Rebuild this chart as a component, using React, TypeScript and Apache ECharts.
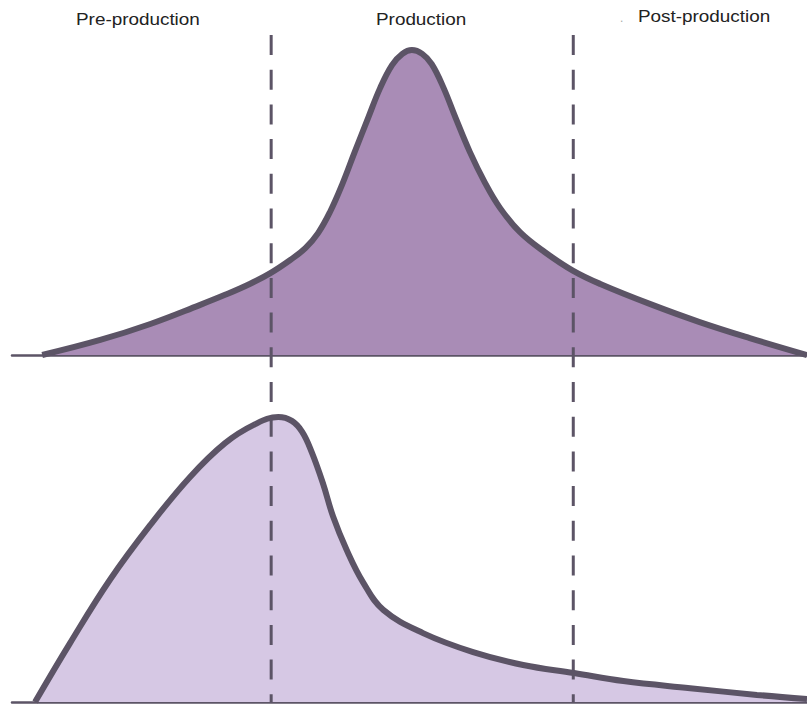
import React, { useEffect, useRef } from "react";
import * as echarts from "echarts";

// Timeline position (0-100) vs relative intensity (0-100)
const productionCurve: [number, number][] = [
  [3.8, 0], [11.1, 4.7], [17.4, 9.7], [23.6, 15.6], [26.8, 18.8], [29.9, 22.2],
  [32.5, 25.6], [35.0, 29.7], [36.9, 33.4], [38.5, 38.1], [40.0, 44.7], [41.5, 53.1],
  [43.1, 63.4], [44.8, 74.1], [46.3, 83.4], [47.8, 90.6], [49.1, 94.1], [50.3, 95.3],
  [51.6, 94.1], [52.8, 90.9], [54.3, 83.4], [55.8, 74.1], [57.6, 63.4], [59.5, 53.8],
  [61.4, 45.9], [63.9, 38.4], [67.0, 32.2], [70.6, 26.3], [74.0, 22.2], [80.3, 15.9],
  [86.5, 10.3], [92.8, 5.3], [100, 0],
];

const preProductionCurve: [number, number][] = [
  [2.9, 0], [7.3, 18.3], [12.3, 37.9], [17.4, 55.0], [22.4, 69.9], [26.8, 80.4],
  [30.6, 86.3], [33.5, 88.5], [35.2, 87.3], [36.5, 83.9], [37.7, 77.6], [39.1, 68.0],
  [40.4, 57.5], [42.1, 47.2], [44.2, 37.0], [46.7, 28.6], [51.7, 21.4], [58.0, 15.5],
  [64.3, 11.5], [70.7, 9.0], [76.9, 6.5], [85.3, 4.3], [93.7, 2.2], [100, 0.9],
];

const phaseBoundaries = [32.6, 70.6];
const phaseLabels = ["Pre-production", "Production", "Post-production"];

const OUTLINE = "#5c5466";
const FONT = "15px 'Liberation Sans', Arial, sans-serif";
const SMOOTH = 0.4;

export default function App() {
  const ref = useRef<HTMLDivElement>(null);

  useEffect(() => {
    document.body.style.margin = "0";
    const chart = echarts.init(ref.current!, null, { renderer: "svg" });

    const xAxisBase = (gridIndex: number, showLine: boolean) => ({
      type: "value" as const,
      gridIndex,
      min: 0,
      max: 100,
      axisLine: { show: showLine, onZero: false, lineStyle: { color: OUTLINE, width: 2.5 } },
      axisTick: { show: false },
      axisLabel: { show: false },
      splitLine: { show: false },
    });
    const yAxisBase = (gridIndex: number, max: number) => ({
      type: "value" as const,
      gridIndex,
      min: 0,
      max,
      show: false,
    });

    const dashSeries = phaseBoundaries.map((x) => ({
      type: "line" as const,
      xAxisIndex: 2,
      yAxisIndex: 2,
      data: [[x, 1], [x, 0]],
      symbol: "none",
      z: 3,
      lineStyle: { color: OUTLINE, width: 3, type: [20, 14.7] as any },
      silent: true,
    }));

    const label = (text: string, x: number, y: number) => ({
      type: "text" as const,
      x,
      y,
      scaleX: 1.26,
      scaleY: 1.05,
      style: { text, font: FONT, fill: "#222", textVerticalAlign: "top" as const },
    });

    chart.setOption({
      animation: false,
      grid: [
        { left: 12, right: 0, top: 35, bottom: 349 },
        { left: 12, right: 0, top: 380, bottom: 2 },
        { left: 12, right: 0, top: 35, bottom: 2 },
      ],
      xAxis: [xAxisBase(0, true), xAxisBase(1, true), xAxisBase(2, false)],
      yAxis: [yAxisBase(0, 100), yAxisBase(1, 100), yAxisBase(2, 1)],
      graphic: [
        label(phaseLabels[0], 76, 12),
        label(phaseLabels[1], 376, 12),
        label(phaseLabels[2], 638, 9),
        { type: "text", x: 620, y: 12, style: { text: ".", font: "12px 'Liberation Sans', Arial, sans-serif", fill: "#aaa", textVerticalAlign: "top" } },
      ],
      series: [
        {
          type: "line",
          xAxisIndex: 0,
          yAxisIndex: 0,
          data: productionCurve,
          smooth: SMOOTH,
          symbol: "none",
          z: 1,
          lineStyle: { width: 0 },
          areaStyle: { color: "#a98cb6", opacity: 1 },
        },
        {
          type: "line",
          xAxisIndex: 1,
          yAxisIndex: 1,
          data: preProductionCurve,
          smooth: SMOOTH,
          symbol: "none",
          z: 1,
          lineStyle: { width: 0 },
          areaStyle: { color: "#d6c8e4", opacity: 1 },
        },
        ...dashSeries,
        {
          type: "line",
          xAxisIndex: 0,
          yAxisIndex: 0,
          data: productionCurve,
          smooth: SMOOTH,
          symbol: "none",
          z: 5,
          lineStyle: { width: 6, color: OUTLINE },
        },
        {
          type: "line",
          xAxisIndex: 1,
          yAxisIndex: 1,
          data: preProductionCurve,
          smooth: SMOOTH,
          symbol: "none",
          z: 5,
          lineStyle: { width: 6, color: OUTLINE },
        },
      ],
    });

    return () => chart.dispose();
  }, []);

  return (
    <div
      ref={ref}
      style={{ position: "absolute", left: 0, top: 0, width: 807, height: 704, background: "#fff" }}
    />
  );
}
